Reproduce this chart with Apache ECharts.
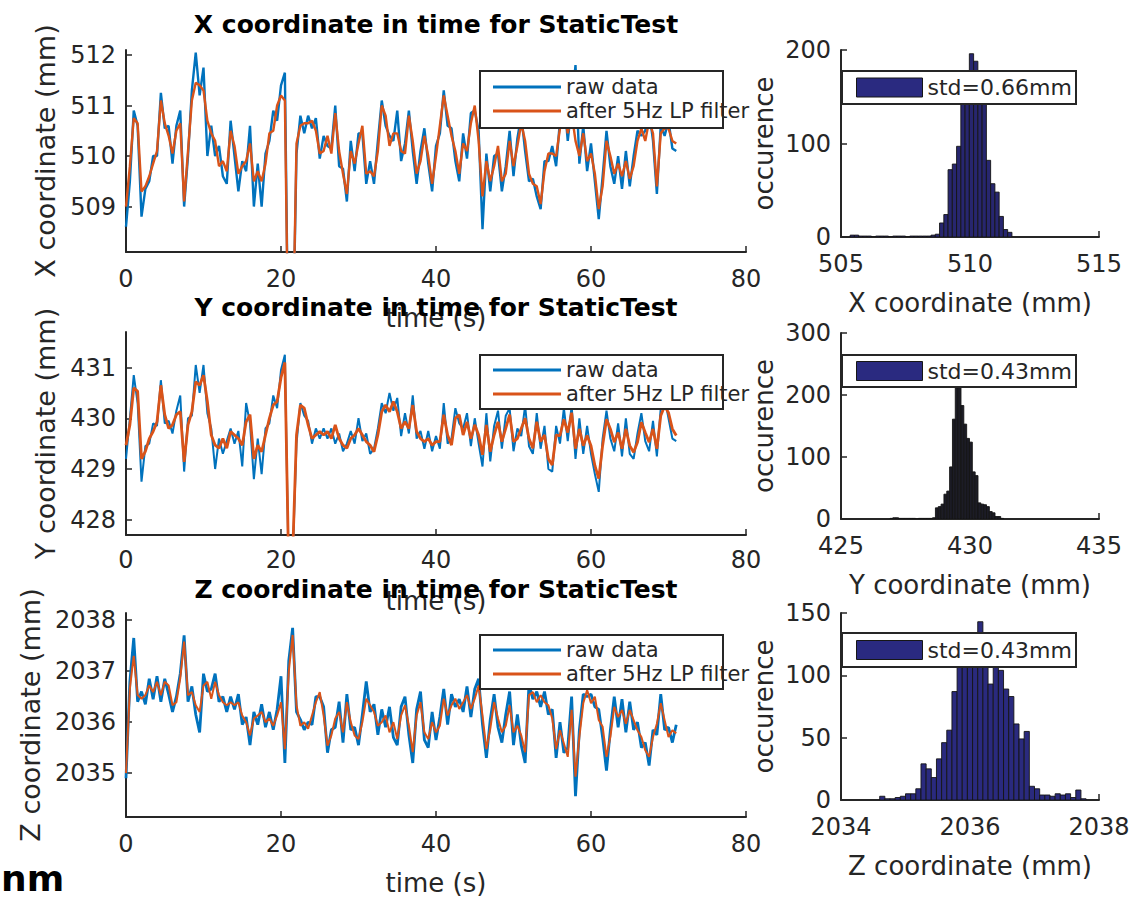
<!DOCTYPE html>
<html><head><meta charset="utf-8">
<script src="https://cdn.jsdelivr.net/npm/echarts@6/dist/echarts.min.js"></script>
<style>html,body{margin:0;padding:0;background:#fff}#c{width:1148px;height:897px}</style>
</head><body><div id="c"></div>
<script>
// ---------- data ----------
const timeStep = 0.5; // s, sampling of the read-off points
const timeTicks = [0, 20, 40, 60, 80];

const xFilt = [
509.0,509.8,510.75,510.65,509.3,509.4,509.6,509.85,510.1,511.1,
510.65,510.4,510.05,510.5,510.65,509.1,510.1,511.1,511.45,511.4,
511.3,510.7,510.45,510.3,509.8,509.9,509.7,510.5,510.2,509.65,
509.8,509.9,510.25,509.5,509.7,509.5,509.85,510.45,510.5,511.0,
511.2,511.1,505.5,506.0,510.25,510.6,510.65,510.65,510.7,510.5,
510.05,510.1,510.4,510.05,510.85,510.1,509.65,509.25,510.1,509.85,
510.25,510.6,509.65,509.7,509.6,510.1,511.0,510.8,510.2,510.45,
510.45,510.1,510.05,510.8,510.3,509.65,509.9,510.4,510.0,509.45,
510.0,510.6,511.2,510.8,510.4,510.1,509.65,510.25,510.1,510.65,
511.0,510.3,509.2,509.9,509.5,509.8,510.2,509.5,509.65,510.3,
509.8,510.2,510.65,510.3,509.65,509.45,509.4,509.05,509.7,510.05,
510.05,510.0,510.55,510.95,510.45,510.85,510.3,510.0,510.45,509.9,
510.05,509.65,508.95,509.4,510.3,510.0,509.65,509.85,509.6,509.9,
509.55,509.8,510.3,510.55,510.3,510.7,510.45,509.4,510.45,510.55,
510.55,510.3,510.25];
const xRaw = [
508.6,509.5,510.9,510.6,508.8,509.35,509.5,510.0,510.0,511.25,
510.55,510.6,509.85,510.6,510.9,509.0,510.0,511.3,512.05,511.2,
511.75,510.0,510.6,510.0,510.2,509.6,509.45,510.7,510.0,509.3,
509.9,509.7,510.6,509.0,509.85,509.0,510.05,510.3,510.9,510.7,
511.4,511.65,505.4,505.9,510.05,510.8,510.45,510.8,510.55,510.75,
509.95,510.4,510.2,510.15,511.0,509.8,509.75,509.1,510.3,509.7,
510.45,510.45,509.45,509.9,509.45,510.3,511.1,510.6,510.4,510.3,
510.9,509.9,510.25,510.9,510.1,509.45,510.1,510.55,509.85,509.3,
510.2,510.45,511.3,510.6,510.55,509.9,509.5,510.45,509.95,510.85,
510.9,510.5,508.55,510.05,509.3,510.0,510.05,509.3,509.8,510.5,
509.6,510.35,510.8,510.1,509.5,509.55,509.2,508.95,509.9,509.9,
510.2,509.8,510.7,511.2,510.3,511.0,511.8,509.85,510.6,509.7,
510.25,509.5,508.75,509.6,510.5,509.8,509.45,510.0,509.35,510.1,
509.4,510.0,510.5,510.4,510.5,510.9,510.3,509.25,510.6,510.4,
510.7,510.15,510.1];

const yFilt = [
429.47,429.87,430.6,430.53,429.2,429.35,429.6,429.74,429.93,430.65,
430.07,429.8,429.87,430.07,430.13,429.14,429.87,430.13,430.72,430.65,
430.85,430.33,429.67,429.47,429.41,429.6,429.41,429.74,429.67,429.6,
429.47,429.93,430.07,429.2,429.47,429.34,429.67,430.0,430.26,430.33,
430.8,431.1,427.0,427.3,429.67,430.26,430.2,429.87,429.6,429.67,
429.74,429.67,429.74,429.6,429.87,429.6,429.47,429.41,429.6,429.67,
429.8,429.67,429.54,429.47,429.34,429.67,430.13,430.26,430.13,430.33,
430.13,429.8,429.93,429.8,430.26,429.74,429.6,429.54,429.6,429.47,
429.54,429.54,430.07,429.67,429.47,430.0,430.07,429.67,429.93,429.6,
429.87,429.67,429.28,429.87,429.34,429.67,429.93,429.54,429.8,430.07,
429.54,429.6,429.8,430.0,429.6,429.41,429.93,429.54,429.67,429.2,
429.08,429.67,429.66,429.98,429.72,430.11,429.4,429.79,429.46,429.66,
429.46,429.07,428.81,429.46,429.98,429.79,429.53,429.72,429.4,429.79,
429.46,429.33,429.53,429.92,429.72,429.53,429.79,429.4,430.05,430.24,
430.11,429.79,429.66];
const yRaw = [
429.2,430.0,430.85,430.3,428.75,429.45,429.5,429.9,429.85,430.75,
429.9,429.95,429.7,430.15,430.45,428.95,430.0,430.05,431.05,430.5,
431.05,430.1,429.8,429.0,429.6,429.3,429.55,429.8,429.5,429.75,
429.05,430.3,429.9,428.8,429.6,428.9,429.8,429.9,430.45,430.2,
430.95,431.25,426.9,427.2,429.5,430.3,430.05,429.95,429.5,429.8,
429.6,429.8,429.6,429.8,429.5,429.7,429.35,429.5,429.75,429.5,
430.0,429.55,429.7,429.3,429.4,429.8,430.3,430.1,430.5,430.15,
430.4,429.65,430.1,429.7,430.45,429.6,429.75,429.4,429.75,429.35,
429.65,429.4,430.3,429.5,429.6,430.2,429.9,429.8,430.1,429.45,
430.0,429.5,429.05,430.1,429.15,429.85,430.15,429.4,430.05,430.2,
429.35,429.8,429.65,430.25,429.45,429.3,430.1,429.4,429.85,429.0,
428.95,429.85,429.5,430.2,429.55,430.25,429.2,430.0,429.3,429.85,
429.3,428.9,428.55,429.6,430.15,429.6,429.35,429.9,429.25,430.0,
429.3,429.2,429.7,430.1,429.55,429.35,429.95,429.25,430.2,430.4,
430.0,429.6,429.55];

const zFilt = [
2035.0,2036.66,2037.3,2036.53,2036.46,2036.53,2036.72,2036.59,2036.79,2036.53,
2036.79,2036.72,2036.33,2036.39,2036.86,2037.58,2036.53,2036.59,2036.33,2036.2,
2036.72,2036.79,2036.46,2036.79,2036.53,2036.39,2036.33,2036.39,2036.33,2036.39,
2036.13,2036.0,2035.74,2036.07,2036.13,2036.2,2036.0,2036.07,2035.93,2036.13,
2036.39,2035.47,2036.99,2037.71,2036.33,2035.93,2036.0,2035.87,2036.13,2036.39,
2036.59,2036.13,2035.54,2035.74,2036.07,2036.2,2035.8,2036.39,2036.0,2035.74,
2035.67,2036.0,2036.46,2036.33,2036.2,2035.93,2036.0,2036.13,2035.8,2036.0,
2035.67,2036.13,2036.33,2035.93,2035.41,2036.13,2036.39,2035.8,2035.67,2036.0,
2035.8,2035.93,2036.46,2036.13,2036.33,2036.46,2036.26,2036.39,2036.53,2036.26,
2036.46,2036.72,2036.13,2035.47,2035.87,2036.39,2036.07,2035.8,2035.93,2036.33,
2035.8,2035.93,2035.74,2035.41,2036.53,2036.59,2036.39,2036.53,2036.39,2036.33,
2036.07,2035.47,2035.84,2035.58,2035.32,2036.24,2034.93,2035.71,2036.37,2036.63,
2036.37,2036.5,2036.04,2035.91,2035.32,2035.71,2036.3,2036.1,2036.24,2035.97,
2036.24,2036.04,2035.84,2035.71,2035.45,2035.32,2035.71,2035.97,2036.37,2036.04,
2035.71,2035.84,2035.78];
const zRaw = [
2034.9,2036.8,2037.65,2036.4,2036.6,2036.35,2036.85,2036.45,2036.9,2036.4,
2036.85,2036.55,2036.2,2036.5,2036.95,2037.7,2036.4,2036.7,2036.15,2035.8,
2036.95,2036.6,2036.65,2036.95,2036.4,2036.5,2036.2,2036.5,2036.25,2036.55,
2035.95,2036.1,2035.55,2036.2,2035.95,2036.35,2035.9,2036.2,2035.85,2036.25,
2036.9,2035.2,2037.2,2037.85,2036.2,2036.05,2035.85,2036.0,2035.95,2036.5,
2036.5,2036.3,2035.4,2035.85,2035.9,2036.4,2035.6,2036.55,2035.85,2035.9,
2035.55,2036.15,2036.8,2036.2,2036.35,2035.75,2036.25,2035.9,2036.3,2035.7,
2035.55,2036.3,2036.5,2035.75,2035.2,2036.25,2036.6,2035.65,2035.5,2036.2,
2035.65,2036.1,2036.65,2035.95,2036.55,2036.3,2036.45,2036.2,2036.7,2036.1,
2036.65,2036.85,2035.95,2035.3,2036.05,2036.55,2035.9,2035.6,2036.15,2036.6,
2035.55,2036.15,2035.55,2035.2,2036.75,2036.45,2036.6,2036.3,2036.6,2036.15,
2036.25,2035.3,2036.0,2035.4,2035.5,2036.5,2034.55,2035.85,2036.55,2036.5,
2036.55,2036.3,2036.25,2035.7,2035.05,2035.85,2036.5,2035.9,2036.45,2035.8,
2036.4,2035.85,2036.0,2035.5,2035.6,2035.15,2035.85,2035.75,2036.55,2035.85,
2035.9,2035.6,2035.95];

// histograms: first bin edge, bin width, counts
const histXStart = 505.355, histXWidth = 0.165;
const histXCounts = [2,2,1,1,1,0,1,1,1,0,1,1,1,0,1,1,1,1,1,2,3,
  15,24,72,78,97,145,170,196,188,165,145,82,57,48,22,8,5];
const histYStart = 426.9, histYWidth = 0.11;
const histYCounts = [1,2,2,1,1,1,1,1,1,0,1,1,1,1,1,2,
  18,20,24,40,45,84,161,212,215,183,153,130,124,76,70,26,24,23,20,12,10,4,4,1];
const histZStart = 2034.6, histZWidth = 0.08;
const histZCounts = [3,1,1,2,3,5,5,9,29,25,18,33,46,56,87,108,118,125,130,143,
  120,93,115,104,89,83,61,49,55,11,9,4,4,3,5,4,5,2,8,1];

const titles = ['X coordinate in time for StaticTest','Y coordinate in time for StaticTest','Z coordinate in time for StaticTest'];
const timeYNames = ['X coordinate (mm)','Y coordinate (mm)','Z coordinate (mm)'];
const timeYRanges = [[508.1,512.1],[427.7,431.7],[2034.14,2038.14]];
const timeYTicks = [[509,510,511,512],[428,429,430,431],[2035,2036,2037,2038]];
const histXRanges = [[505,515,5],[425,435,5],[2034,2038,2]];
const histYRanges = [[0,200,100],[0,300,100],[0,150,50]];
const histNames = ['X coordinate (mm)','Y coordinate (mm)','Z coordinate (mm)'];
const stdLabels = ['std=0.66mm','std=0.43mm','std=0.43mm'];
const legendNames = ['raw data','after 5Hz LP filter'];
const cutCaption = 'nm';

// ---------- styling / layout ----------
const FONT = 'DejaVu Sans';
const AX = '#262626';
const BLUE = '#0072BD', ORANGE = '#D95319', NAVY = '#27266f';
const histFill = [NAVY, '#1c1c26', '#2a2a7e'];
const timeGrid = [{top:50,h:202},{top:332,h:203},{top:613,h:204}];
const histGrid = [{top:50,h:187},{top:333,h:186},{top:613,h:187}];
const titleTops = [12, 295, 577];
const timeLabelMargin = [15, 13, 15];
const tLegRow = [87, 370, 650];
const tLegBox = [[480,71,243,57],[480,355,243,54],[480,635,243,54]];
const hLegRow = [87.5, 371, 650];
const hLegBox = [[842,71,234,33],[842,355,234,32],[842,633,234,34]];
const lineW = [[2.4,2.4],[2,2.8],[2.8,2]];

function pairs(vals){ return vals.map((v,i)=>[i*timeStep, v]); }
function bins(start, width, counts){ return counts.map((c,i)=>[start+i*width, start+(i+1)*width, c]); }
const plain = v => String(v);

const axLine = {show:true, onZero:false, lineStyle:{color:AX, width:2}};
const axTick = {show:true, inside:true, length:6, lineStyle:{color:AX, width:1.5}};
const lblStyle = {fontFamily:FONT, fontSize:24, color:AX, formatter:plain};
const nameStyle = {fontFamily:FONT, fontSize:26, color:AX};

const grid = [], xAxis = [], yAxis = [], series = [], title = [], legend = [], graphic = [];
const raws = [xRaw, yRaw, zRaw], filts = [xFilt, yFilt, zFilt];
const hists = [bins(histXStart,histXWidth,histXCounts), bins(histYStart,histYWidth,histYCounts), bins(histZStart,histZWidth,histZCounts)];

for (let k=0;k<3;k++){
  grid.push({left:126, width:620, top:timeGrid[k].top, height:timeGrid[k].h});
  xAxis.push({gridIndex:k, type:'value', min:0, max:80, interval:20,
    name:'time (s)', nameLocation:'middle', nameGap:53, nameTextStyle:nameStyle,
    axisLine:axLine, axisTick:axTick, axisLabel:Object.assign({margin:timeLabelMargin[k]}, lblStyle), splitLine:{show:false}});
  yAxis.push({gridIndex:k, type:'value', min:timeYRanges[k][0], max:timeYRanges[k][1],
    name:timeYNames[k], nameLocation:'middle', nameGap:64, nameTextStyle:Object.assign({}, nameStyle, {fontSize:27}),
    axisLine:axLine, axisTick:Object.assign({customValues:timeYTicks[k]}, axTick),
    axisLabel:Object.assign({margin:10, customValues:timeYTicks[k]}, lblStyle), splitLine:{show:false}});
  series.push({type:'line', name:legendNames[0], xAxisIndex:k, yAxisIndex:k, data:pairs(raws[k]),
    symbol:'none', lineStyle:{color:BLUE, width:lineW[k][0]}, itemStyle:{color:BLUE}, clip:true, z:2});
  series.push({type:'line', name:legendNames[1], xAxisIndex:k, yAxisIndex:k, data:pairs(filts[k]),
    symbol:'none', lineStyle:{color:ORANGE, width:lineW[k][1]}, itemStyle:{color:ORANGE}, clip:true, z:2});
  title.push({text:titles[k], left:436, top:titleTops[k], textAlign:'center', padding:0,
    textStyle:{fontFamily:FONT, fontWeight:'bold', fontSize:25, color:'#000'}});
  legend.push({orient:'vertical', left:493, top:tLegRow[k]-12, padding:0, itemGap:0, itemWidth:68, itemHeight:3,
    selectedMode:false, z:6,
    textStyle:{fontFamily:FONT, fontSize:21, color:AX, lineHeight:24},
    data:[{name:legendNames[0], icon:'rect', itemStyle:{color:BLUE}},
          {name:legendNames[1], icon:'rect', itemStyle:{color:ORANGE}}]});
  const b = tLegBox[k];
  graphic.push({type:'rect', z:5, shape:{x:b[0], y:b[1], width:b[2], height:b[3]}, style:{fill:'#fff', stroke:AX, lineWidth:2}});
}
for (let k=0;k<3;k++){
  const gi = 3+k;
  const fill = histFill[k];
  grid.push({left:841, width:258, top:histGrid[k].top, height:histGrid[k].h});
  xAxis.push({gridIndex:gi, type:'value', min:histXRanges[k][0], max:histXRanges[k][1], interval:histXRanges[k][2],
    name:histNames[k], nameLocation:'middle', nameGap:53, nameTextStyle:nameStyle,
    axisLine:axLine, axisTick:axTick, axisLabel:Object.assign({margin:15}, lblStyle), splitLine:{show:false}});
  yAxis.push({gridIndex:gi, type:'value', min:histYRanges[k][0], max:histYRanges[k][1], interval:histYRanges[k][2],
    name:'occurence', nameLocation:'middle', nameGap:64, nameTextStyle:nameStyle,
    axisLine:axLine, axisTick:axTick, axisLabel:Object.assign({margin:10}, lblStyle), splitLine:{show:false}});
  series.push({type:'custom', name:stdLabels[k], xAxisIndex:gi, yAxisIndex:gi, data:hists[k],
    encode:{x:[0,1], y:2}, itemStyle:{color:NAVY}, clip:true, z:2,
    renderItem:function(params, api){
      const p0 = api.coord([api.value(0), api.value(2)]);
      const p1 = api.coord([api.value(1), 0]);
      return {type:'rect', shape:{x:p0[0], y:p0[1], width:p1[0]-p0[0], height:p1[1]-p0[1]},
        style:{fill:fill, stroke:'#141414', lineWidth:0.9}};
    }});
  legend.push({orient:'vertical', left:856, top:hLegRow[k]-12, padding:0, itemWidth:66, itemHeight:19,
    selectedMode:false, z:6,
    textStyle:{fontFamily:FONT, fontSize:22, color:AX, lineHeight:24},
    data:[{name:stdLabels[k], icon:'rect', itemStyle:{color:'#2a2a80', borderColor:'#161616', borderWidth:1}}]});
  const b = hLegBox[k];
  graphic.push({type:'rect', z:5, shape:{x:b[0], y:b[1], width:b[2], height:b[3]}, style:{fill:'#fff', stroke:AX, lineWidth:2}});
}
graphic.push({type:'text', z:6, style:{text:cutCaption, x:1, y:896, align:'left', verticalAlign:'bottom',
  font:'bold 36px "DejaVu Sans"', fill:'#000'}});

const chart = echarts.init(document.getElementById('c'), null, {renderer:'svg'});
chart.setOption({animation:false, backgroundColor:'#fff', grid, xAxis, yAxis, series, title, legend, graphic});
</script>
</body></html>
